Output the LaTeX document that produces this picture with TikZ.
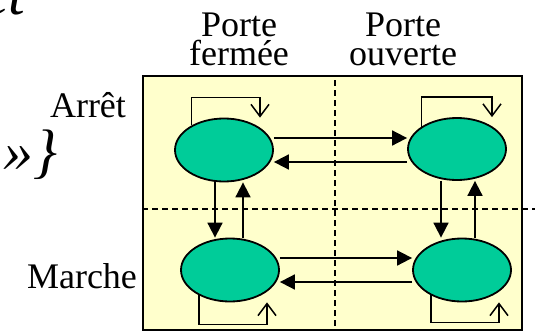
\documentclass[tikz,border=0pt]{standalone}
\usepackage{fontspec}
\setmainfont{Liberation Serif}
\usetikzlibrary{arrows, arrows.meta}
\usetikzlibrary{shapes.geometric}
\definecolor{fond}{HTML}{FFFFCC}
\definecolor{vertetat}{HTML}{00CC99}

\begin{document}
\begin{tikzpicture}[x=1pt, y=1pt,
    etat/.style={ellipse, draw, fill=vertetat, line width=1.8pt, minimum width=98pt, minimum height=63pt, inner sep=0pt},
    trans/.style={line width=1.8pt, -{Triangle[length=15pt, width=15pt]}},
    boucle/.style={line width=1.5pt, -{Straight Barb[length=12pt, width=18pt]}},
    legende/.style={font=\fontsize{36}{29}\selectfont, align=center, inner sep=0pt},
    coupe/.style={line width=1.4pt, dash pattern=on 6pt off 4pt}]
      \useasboundingbox (0,0) rectangle (535,333);

      % restes du titre
      \node[font=\fontsize{60}{60}\selectfont\itshape, anchor=base west, inner sep=0pt] (titre) at (-18,319) {et};
      \node[font=\fontsize{60}{60}\selectfont\itshape, anchor=base west, inner sep=0pt] (accolade) at (3,162) {»\}};

      \draw[fill=fond, line width=1.8pt] (143,3) rectangle (522,257);
      \draw[coupe] (335,253) -- (335,6);
      \draw[coupe] (142,124) -- (535,124);

      \node[legende] (fermee) at (239,294) {Porte\\fermée};
      \node[legende] (ouverte) at (403,294) {Porte\\ouverte};
      \node[legende, anchor=base] (arret) at (88,216) {Arrêt};
      \node[legende, anchor=base] (marche) at (82,45) {Marche};

      \node[etat] (fa) at (224,183) {};
      \node[etat, minimum height=62pt] (oa) at (457,184) {};
      \node[etat] (fm) at (230,63) {};
      \node[etat] (om) at (462,63) {};

      \draw[trans] ([yshift=12pt]fa.east) -- ([yshift=12pt]fa.east -| oa.west);
      \draw[trans] ([yshift=-13pt]oa.west) -- ([yshift=-13pt]oa.west -| fa.east);
      \draw[trans] ([yshift=12pt]fm.east) -- ([yshift=12pt]fm.east -| om.west);
      \draw[trans] ([yshift=-12pt]om.west) -- ([yshift=-12pt]om.west -| fm.east);

      \draw[trans] ([xshift=-9pt]fa.south) -- ([xshift=-9pt]fa.south |- fm.north);
      \draw[trans] ([xshift=13pt]fm.north) -- ([xshift=13pt]fm.north |- fa.south);
      \draw[trans] ([xshift=-16pt]oa.south) -- ([xshift=-16pt]oa.south |- om.north);
      \draw[trans] ([xshift=13pt]om.north) -- ([xshift=13pt]om.north |- oa.south);

      \draw[boucle] (fa.143) |- ([shift={(36pt,20pt)}]fa.north) -- ([xshift=36pt]fa.north);
      \draw[boucle] (oa.148) |- ([shift={(35pt,20pt)}]oa.north) -- ([xshift=35pt]oa.north);
      \draw[boucle] (fm.219) |- ([shift={(37pt,-22pt)}]fm.south) -- ([xshift=37pt]fm.south);
      \draw[boucle] (om.219) |- ([shift={(37pt,-20pt)}]om.south) -- ([xshift=37pt]om.south);
\end{tikzpicture}
\end{document}
